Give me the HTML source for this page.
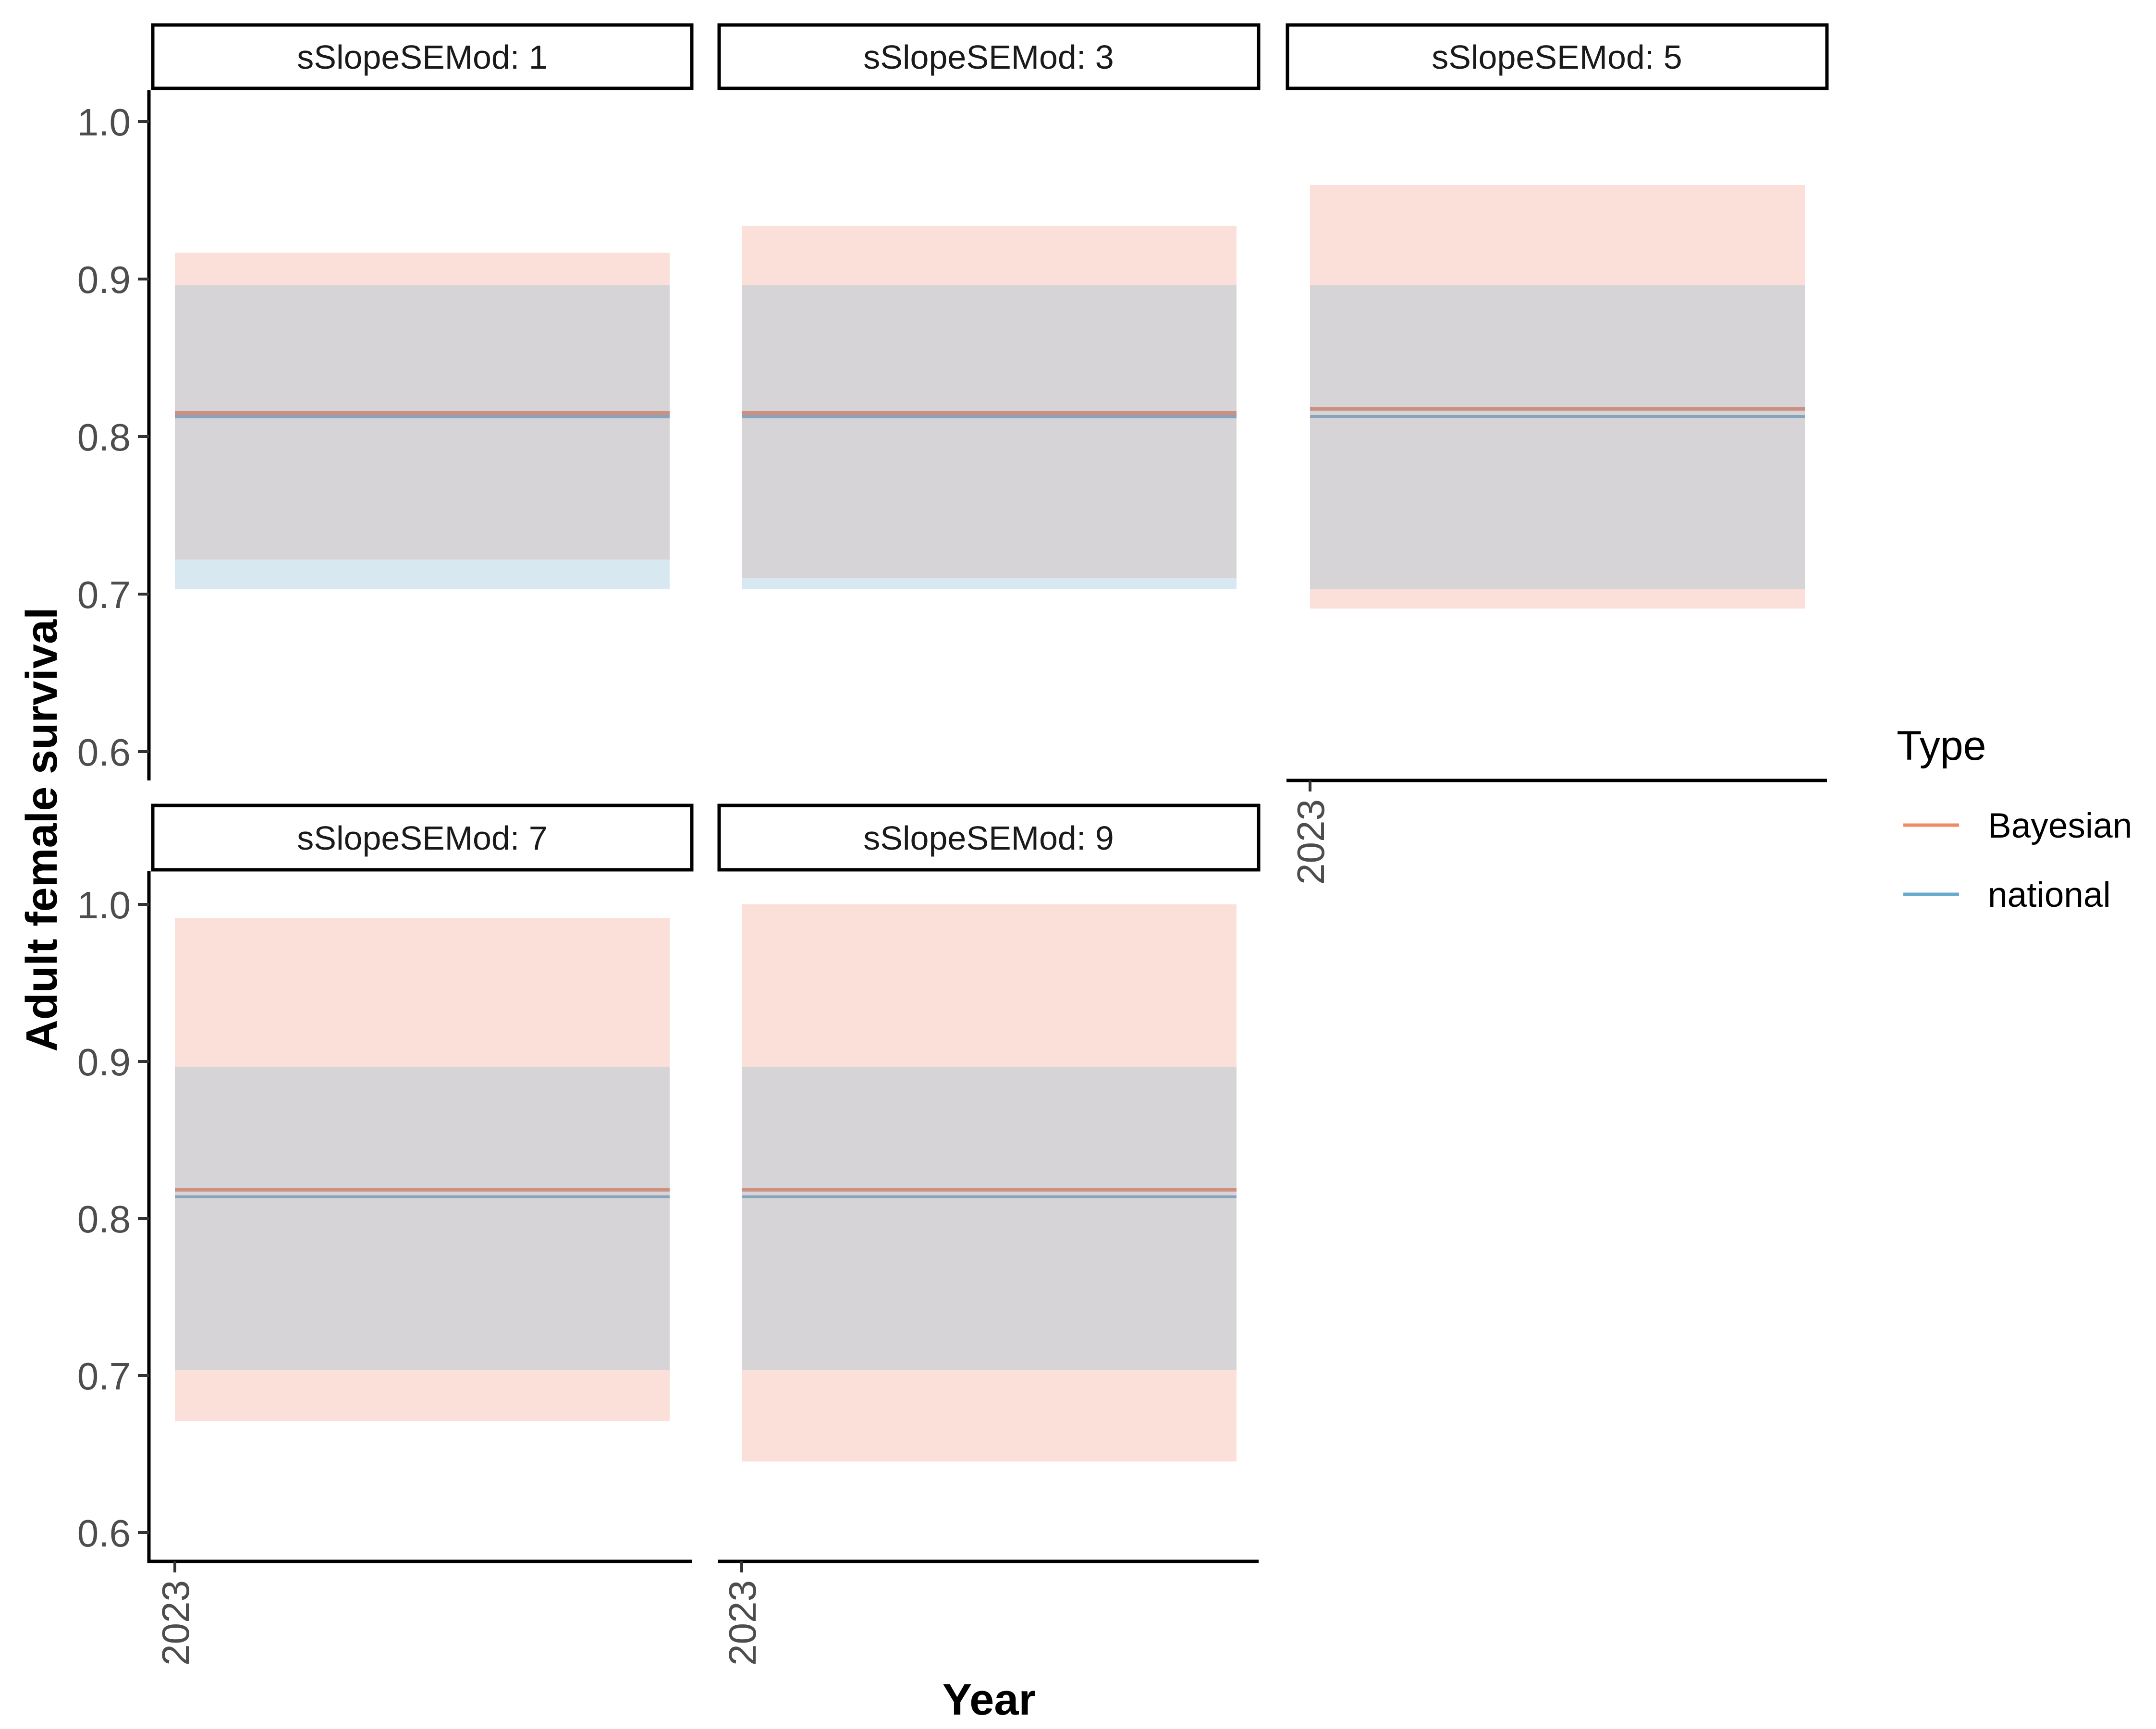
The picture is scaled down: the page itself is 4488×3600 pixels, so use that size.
<!DOCTYPE html>
<html><head><meta charset="utf-8"><style>html,body{margin:0;padding:0;background:#fff}svg{display:block}</style></head>
<body>
<svg width="4488" height="3600" viewBox="0 0 4488 3600" xmlns="http://www.w3.org/2000/svg" font-family="Liberation Sans, Arial, sans-serif">
<rect width="4488" height="3600" fill="#fff"/>
<rect x="364" y="526" width="1030" height="68" fill="#fae0d8"/>
<rect x="364" y="594" width="1030" height="571" fill="#d6d4d7"/>
<rect x="364" y="1165" width="1030" height="62" fill="#d8e8f1"/>
<rect x="364" y="856" width="1030" height="8" fill="#cd8f80"/>
<rect x="364" y="864" width="1030" height="7" fill="#86a5bd"/>
<rect x="1544" y="471" width="1030" height="123" fill="#fae0d8"/>
<rect x="1544" y="594" width="1030" height="609" fill="#d6d4d7"/>
<rect x="1544" y="1203" width="1030" height="24" fill="#d8e8f1"/>
<rect x="1544" y="856" width="1030" height="8" fill="#cd8f80"/>
<rect x="1544" y="864" width="1030" height="7" fill="#86a5bd"/>
<rect x="2727" y="385" width="1030" height="209" fill="#fae0d8"/>
<rect x="2727" y="594" width="1030" height="633" fill="#d6d4d7"/>
<rect x="2727" y="1227" width="1030" height="40" fill="#fae0d8"/>
<rect x="2727" y="848" width="1030" height="7" fill="#cd8f80"/>
<rect x="2727" y="864" width="1030" height="6" fill="#86a5bd"/>
<rect x="364" y="1912" width="1030" height="309" fill="#fae0d8"/>
<rect x="364" y="2221" width="1030" height="631" fill="#d6d4d7"/>
<rect x="364" y="2852" width="1030" height="107" fill="#fae0d8"/>
<rect x="364" y="2474" width="1030" height="7" fill="#cd8f80"/>
<rect x="364" y="2489" width="1030" height="6" fill="#86a5bd"/>
<rect x="1544" y="1883" width="1030" height="338" fill="#fae0d8"/>
<rect x="1544" y="2221" width="1030" height="631" fill="#d6d4d7"/>
<rect x="1544" y="2852" width="1030" height="191" fill="#fae0d8"/>
<rect x="1544" y="2474" width="1030" height="7" fill="#cd8f80"/>
<rect x="1544" y="2489" width="1030" height="6" fill="#86a5bd"/>

<g fill="none" stroke="#000" stroke-width="7">
<rect x="318" y="52" width="1122" height="132"/>
<rect x="1497" y="52" width="1123" height="132"/>
<rect x="2680" y="52" width="1123" height="132"/>
<rect x="318" y="1677" width="1122" height="134"/>
<rect x="1497" y="1677" width="1123" height="134"/>
</g>
<g font-size="70" fill="#1a1a1a" text-anchor="middle">
<text x="879" y="143">sSlopeSEMod: 1</text>
<text x="2058" y="143">sSlopeSEMod: 3</text>
<text x="3241" y="143">sSlopeSEMod: 5</text>
<text x="879" y="1769">sSlopeSEMod: 7</text>
<text x="2058" y="1769">sSlopeSEMod: 9</text>
</g>
<g stroke="#000" stroke-width="7">
<line x1="310" y1="188" x2="310" y2="1625"/>
<line x1="310" y1="1813" x2="310" y2="3254"/>
<line x1="307" y1="3251" x2="1440" y2="3251"/>
<line x1="1495" y1="3251" x2="2620" y2="3251"/>
<line x1="2678" y1="1625" x2="3803" y2="1625"/>
</g>
<g stroke="#333" stroke-width="6">
<line x1="287" y1="253" x2="310" y2="253"/><line x1="287" y1="581" x2="310" y2="581"/><line x1="287" y1="909" x2="310" y2="909"/><line x1="287" y1="1237" x2="310" y2="1237"/><line x1="287" y1="1565" x2="310" y2="1565"/>
<line x1="287" y1="1883" x2="310" y2="1883"/><line x1="287" y1="2210" x2="310" y2="2210"/><line x1="287" y1="2537" x2="310" y2="2537"/><line x1="287" y1="2864" x2="310" y2="2864"/><line x1="287" y1="3191" x2="310" y2="3191"/>
<line x1="364" y1="3251" x2="364" y2="3274"/><line x1="1544" y1="3251" x2="1544" y2="3274"/><line x1="2727" y1="1625" x2="2727" y2="1648"/>
</g>
<g font-size="80" fill="#4d4d4d" text-anchor="end">
<text x="272" y="282">1.0</text><text x="272" y="610">0.9</text><text x="272" y="938">0.8</text><text x="272" y="1266">0.7</text><text x="272" y="1594">0.6</text>
<text x="272" y="1912">1.0</text><text x="272" y="2239">0.9</text><text x="272" y="2566">0.8</text><text x="272" y="2893">0.7</text><text x="272" y="3220">0.6</text>
</g>
<g font-size="80" fill="#4d4d4d" text-anchor="end">
<text transform="translate(393,3290) rotate(-90)">2023</text>
<text transform="translate(1573,3290) rotate(-90)">2023</text>
<text transform="translate(2756,1664) rotate(-90)">2023</text>
</g>
<text x="2059" y="3570" font-size="92" font-weight="bold" text-anchor="middle" fill="#000">Year</text>
<text transform="translate(118,1727) rotate(-90)" font-size="92" font-weight="bold" text-anchor="middle" fill="#000">Adult female survival</text>
<text x="3948" y="1582" font-size="86" fill="#000">Type</text>
<line x1="3962" y1="1718" x2="4078" y2="1718" stroke="#ef8a62" stroke-width="7"/>
<line x1="3962" y1="1862" x2="4078" y2="1862" stroke="#67a9cf" stroke-width="7"/>
<text x="4138" y="1744" font-size="73" fill="#000">Bayesian</text>
<text x="4138" y="1888" font-size="73" fill="#000">national</text>
</svg>
</body></html>
